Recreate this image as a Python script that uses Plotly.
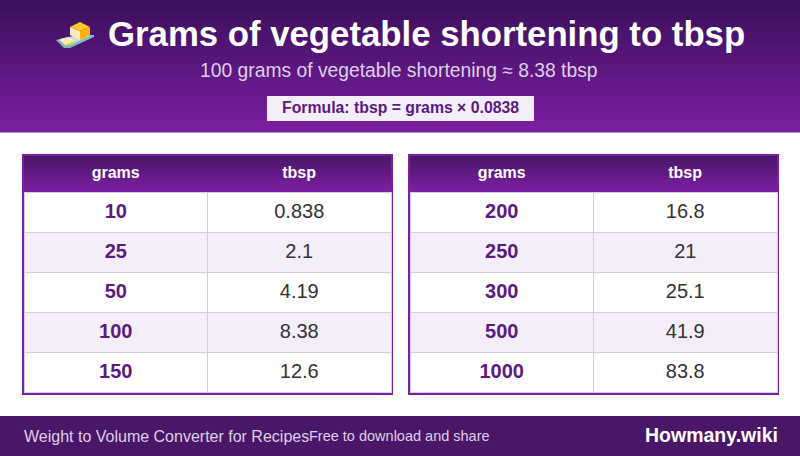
import plotly.graph_objects as go

W = 800
H = 456
FONT = "Liberation Sans"

left_grams = [10, 25, 50, 100, 150]
left_tbsp = ["0.838", "2.1", "4.19", "8.38", "12.6"]
right_grams = [200, 250, 300, 500, 1000]
right_tbsp = ["16.8", "21", "25.1", "41.9", "83.8"]
col_names = ["grams", "tbsp"]

title = "Grams of vegetable shortening to tbsp"
subtitle = "100 grams of vegetable shortening ≈ 8.38 tbsp"
formula = "Formula: tbsp = grams × 0.0838"
foot_left = "Weight to Volume Converter for Recipes"
foot_mid = "Free to download and share"
foot_right = "Howmany.wiki"

DARK = (58, 15, 90)
MID = (74, 22, 104)
PURPLE = (123, 31, 162)
ROW_A = "#ffffff"
ROW_B = "#f3eefa"
GRID = "#d9c8e8"
INK = "#333333"
NAME = "#5a1a82"


def px(x):
    return x / W


def py(y):
    return 1 - y / H


def rect(x0, y0, x1, y1, color, layer="below"):
    return dict(type="rect", xref="paper", yref="paper", x0=px(x0), x1=px(x1), y0=py(y0), y1=py(y1),
                fillcolor=color, line=dict(width=0), layer=layer)


def gradient(x0, y0, x1, y1, c0, c1):
    # no gradient fill for shapes, so stack 1px strips
    out = []
    n = y1 - y0
    for i in range(n):
        t = i / max(n - 1, 1)
        c = [round(a + (b - a) * t) for a, b in zip(c0, c1)]
        out.append(rect(x0, y0 + i, x1, y0 + i + 1.5, f"rgb({c[0]},{c[1]},{c[2]})"))
    return out


def poly(points, color):
    path = "M " + " L ".join(f"{px(x):.5f},{py(y):.5f}" for x, y in points) + " Z"
    return dict(type="path", xref="paper", yref="paper", path=path, fillcolor=color, line=dict(width=0), layer="below")


def table(x0, x1, grams, tbsp):
    fills = [ROW_A if i % 2 == 0 else ROW_B for i in range(len(grams))]
    return go.Table(
        domain=dict(x=[px(x0), px(x1)], y=[py(394), py(156)]),
        columnwidth=[1, 1],
        header=dict(values=[f"<b>{c}</b>" for c in col_names], height=36,
                    fill_color="rgba(0,0,0,0)", line_color="rgba(0,0,0,0)",
                    font=dict(family=FONT, size=16, color="white"), align="center"),
        cells=dict(values=[[f"<b>{g}</b>" for g in grams], [f"<span>{t}</span>" for t in tbsp]], height=40,
                   fill_color=[fills, fills], line_color=GRID,
                   font=dict(family=FONT, size=20, color=[NAME, INK]), align="center"),
    )


shapes = gradient(0, 0, W, 132, DARK, PURPLE)
shapes.append(rect(267, 96, 534, 121, ROW_B))
shapes.append(rect(0, 416, W, H, "rgb(74,22,104)"))
for x0, x1 in [(22, 393), (408, 779)]:
    shapes.append(rect(x0, 154, x1, 395, "rgb(123,31,162)"))
    shapes.extend(gradient(x0 + 2, 156, x1 - 2, 192, MID, PURPLE))

# butter icon
shapes += [
    poly([(56, 40), (76, 35), (94, 35), (94, 37), (70, 48), (64, 48)], "#7fb9c0"),
    poly([(59, 40), (76, 36), (90, 36), (70, 45), (65, 45)], "#bfe3e6"),
    poly([(60, 39), (68, 37), (75, 41), (65, 45)], "#ffe9b8"),
    poly([(65, 45), (75, 41), (75, 42), (66, 46)], "#ffc107"),
    poly([(70, 27), (80, 22), (90, 27), (80, 31)], "#ffca28"),
    poly([(70, 27), (80, 31), (80, 40), (70, 35)], "#ffe6bd"),
    poly([(80, 31), (90, 27), (90, 35), (80, 40)], "#ffb300"),
]


def note(text, x, y, size, color, anchor="center", bold=False):
    t = f"<b>{text}</b>" if bold else text
    return dict(text=t, x=px(x), y=py(y), xref="paper", yref="paper", showarrow=False, xanchor=anchor,
                yanchor="middle", font=dict(family=FONT, size=size, color=color))


annotations = [
    note(title, 426.5, 34, 34.75, "white", bold=True),
    note(subtitle, 399, 70, 19.3, "#dfcfe9"),
    note(formula, 400.5, 108, 15.8, "#5a1a82", bold=True),
    note(foot_left, 22, 436, 16, "#dfcfe9", "left"),
    note(foot_mid, 307, 436, 14.5, "#dfcfe9", "left"),
    note(foot_right, 780, 435, 19.5, "white", "right", bold=True),
]

fig = go.Figure([table(24, 391, left_grams, left_tbsp), table(410, 777, right_grams, right_tbsp)])
fig.update_layout(width=W, height=H, margin=dict(l=0, r=0, t=0, b=0), paper_bgcolor="white",
                  shapes=shapes, annotations=annotations, showlegend=False)
fig.write_html("out.html", config=dict(displayModeBar=False), post_script="document.body.style.margin='0';")
